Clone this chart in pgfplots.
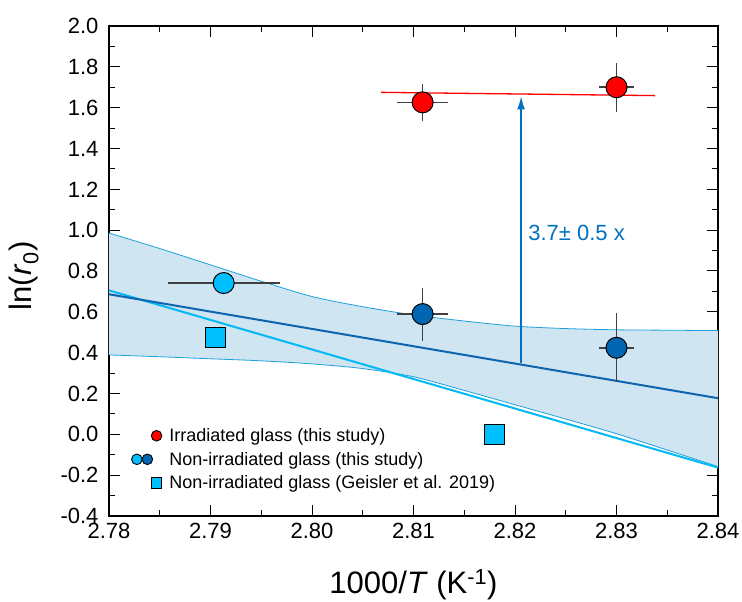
\documentclass[border=0pt]{standalone}
\usepackage{fontspec}
\setmainfont{Liberation Sans}
\usepackage{pgfplots}
\pgfplotsset{compat=1.18}
\usepgfplotslibrary{fillbetween}
\usetikzlibrary{arrows.meta}
\definecolor{lightbluec}{RGB}{0,191,255}
\definecolor{darkbluec}{RGB}{0,102,178}
\definecolor{bandfill}{RGB}{207,229,241}
\definecolor{bandedge}{RGB}{30,160,220}
\definecolor{darkline}{RGB}{15,100,175}
\definecolor{cyanline}{RGB}{0,185,245}
\definecolor{arrowblue}{RGB}{0,112,192}
\definecolor{errgray}{RGB}{64,64,64}
\definecolor{redc}{RGB}{255,0,0}
\begin{document}
\begin{tikzpicture}
\begin{axis}[
  scale only axis, width=609pt, height=490pt,
  xmin=2.78, xmax=2.84, ymin=-0.4, ymax=2.0,
  xtick={2.78,2.79,2.80,2.81,2.82,2.83,2.84},
  ytick={-0.4,-0.2,0,0.2,0.4,0.6,0.8,1.0,1.2,1.4,1.6,1.8,2.0},
  minor x tick num=1, minor y tick num=1,
  tick align=inside, xtick pos=both, ytick pos=both,
  xticklabel pos=lower, yticklabel pos=left,
  major tick length=11pt, minor tick length=6pt,
  every tick/.style={black, line width=1pt},
  axis line style={line width=1.3pt},
  /pgf/number format/assume math mode=true,
  xticklabel style={/pgf/number format/.cd, fixed, fixed zerofill, precision=2, /tikz/.cd, font=\fontsize{22}{26}\selectfont, yshift=-4pt},
  yticklabel style={/pgf/number format/.cd, fixed, fixed zerofill, precision=1, /tikz/.cd, font=\fontsize{22}{26}\selectfont, xshift=-7pt},
  xlabel={1000/\textit{T} (K\textsuperscript{-1})},
  ylabel={ln(\textit{r}\textsubscript{0})},
  xlabel style={font=\fontsize{31}{36}\selectfont, inner sep=0pt, at={(axis description cs:0.5,-0.1408)}, anchor=center},
  ylabel style={font=\fontsize{31}{36}\selectfont, inner sep=0pt, at={(axis description cs:-0.1396,0.49)}, anchor=center},
  legend style={at={(axis description cs:0.036,0.181)}, anchor=north west, draw=none, fill=none, inner sep=0pt, row sep=7pt, column sep=6pt, font=\fontsize{18}{21}\selectfont, nodes={inner sep=1pt}},
  legend cell align=left,
]
% confidence band
\addplot[name path=upper, draw=bandedge, line width=0.8pt, forget plot, smooth] coordinates {
 (2.780,0.986) (2.785,0.910) (2.790,0.830) (2.795,0.750) (2.800,0.675) (2.805,0.625)
 (2.810,0.585) (2.815,0.555) (2.820,0.530) (2.825,0.518) (2.830,0.512) (2.835,0.510) (2.840,0.508)};
\addplot[name path=lower, draw=bandedge, line width=0.8pt, forget plot, smooth] coordinates {
 (2.780,0.389) (2.785,0.380) (2.790,0.370) (2.795,0.360) (2.800,0.345) (2.805,0.322)
 (2.810,0.282) (2.815,0.215) (2.820,0.145) (2.825,0.075) (2.830,0.003) (2.835,-0.077) (2.840,-0.158)};
\addplot[bandfill, forget plot] fill between[of=upper and lower];
% fit lines
\addplot[cyanline, line width=2pt, forget plot] coordinates {(2.78,0.705) (2.84,-0.163)};
\addplot[darkline, line width=2pt, forget plot] coordinates {(2.78,0.686) (2.84,0.177)};
\addplot[redc, line width=1.3pt, forget plot] coordinates {(2.8068,1.675) (2.8338,1.659)};
% arrow
\addplot[arrowblue, line width=1.3pt, -{Latex[length=13pt,width=8pt]}, forget plot] coordinates {(2.8206,0.351) (2.8206,1.655)};
% data points
\addplot[only marks, mark=*, mark size=10.5pt, mark options={fill=redc, draw=black, line width=1pt}, forget plot,
  error bars/.cd, x dir=both, x explicit, y dir=both, y explicit, error bar style={line width=1.6pt, errgray}, error mark=none]
  coordinates {(2.8109,1.626) +- (0.0025,0.09) (2.830,1.700) +- (0.0017,0.12)};
\addplot[only marks, mark=*, mark size=10.5pt, mark options={fill=lightbluec, draw=black, line width=1pt}, forget plot,
  error bars/.cd, x dir=both, x explicit, y dir=both, y explicit, error bar style={line width=1.6pt, errgray}, error mark=none]
  coordinates {(2.7913,0.741) +- (0.0055,0)};
\addplot[only marks, mark=*, mark size=10.5pt, mark options={fill=darkbluec, draw=black, line width=1pt}, forget plot,
  error bars/.cd, x dir=both, x explicit, y dir=both, y explicit, error bar style={line width=1.6pt, errgray}, error mark=none]
  coordinates {(2.8109,0.589) +- (0.0025,0.13) (2.830,0.424) +- (0.0017,0.168)};
\addplot[only marks, mark=square*, mark size=10pt, mark options={fill=lightbluec, draw=black, line width=1pt}, forget plot]
  coordinates {(2.7905,0.476) (2.818,0.0)};
% annotation
\node[arrowblue, font=\fontsize{22}{26}\selectfont, anchor=west, inner sep=0pt] at (axis cs:2.8213,0.987) {3.7± 0.5 x};
% legend
\addlegendimage{legend image code/.code={\draw[black, line width=0.9pt, fill=redc] (24.7pt,0pt) circle (5.3pt);}}
\addlegendentry{Irradiated glass (this study)}
\addlegendimage{legend image code/.code={\draw[black, line width=0.9pt, fill=lightbluec] (5pt,0pt) circle (5.3pt); \draw[black, line width=0.9pt, fill=darkbluec] (15.5pt,0pt) circle (5.3pt);}}
\addlegendentry{Non-irradiated glass (this study)}
\addlegendimage{legend image code/.code={\draw[black, line width=0.9pt, fill=lightbluec] (19.5pt,-5.2pt) rectangle (29.9pt,5.2pt);}}
\addlegendentry{Non-irradiated glass (Geisler et al. 2019)}
\end{axis}
\pgfresetboundingbox
\path[use as bounding box] ([shift={(-109pt,-86pt)}]current axis.south west) rectangle ([shift={(24pt,26pt)}]current axis.north east);
\end{tikzpicture}
\end{document}
